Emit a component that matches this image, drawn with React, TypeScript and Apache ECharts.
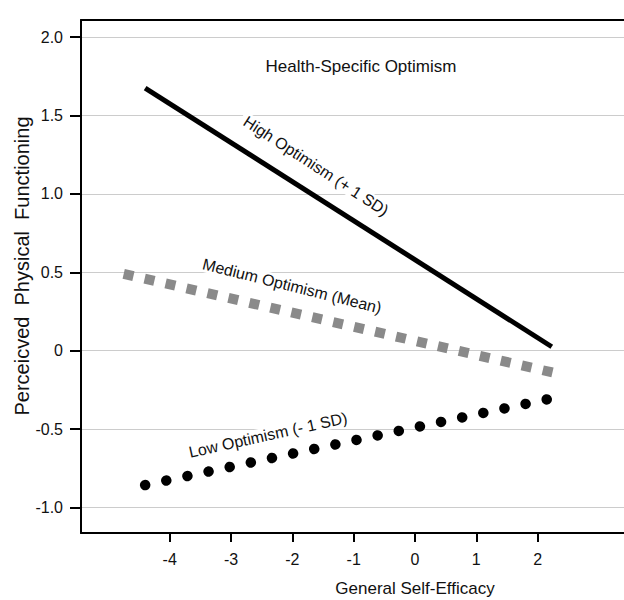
import { useEffect, useRef } from "react";
import * as echarts from "echarts";

const xTicks = [-4, -3, -2, -1, 0, 1, 2];
const yTicks = [-1, -0.5, 0, 0.5, 1, 1.5, 2];
const yTickLabels = ["-1.0", "-0.5", "0", "0.5", "1.0", "1.5", "2.0"];

const highX = [-4.4, 2.23];
const highY = [1.675, 0.025];
const mediumX = [-4.75, 2.25];
const mediumY = [0.49, -0.14];
const lowX = [-4.4, 2.16];
const lowY = [-0.857, -0.31];

const title = "Health-Specific Optimism";
const highLabel = "High Optimism (+ 1 SD)";
const mediumLabel = "Medium Optimism (Mean)";
const lowLabel = "Low Optimism (- 1 SD)";
const xTitle = "General Self-Efficacy";
const yTitle = "Perceicved  Physical  Functioning";

const X_MIN = -5.446;
const X_MAX = 3.408;
const Y_MIN = -1.163;
const Y_MAX = 2.109;

const FONT = "'Liberation Sans', Arial, sans-serif";

function pairs(xs: number[], ys: number[]) {
  return xs.map((x, i) => [x, ys[i]]);
}

export default function App() {
  const ref = useRef<HTMLDivElement>(null);
  useEffect(() => {
    if (!ref.current) return;
    const chart = echarts.init(ref.current, null, { renderer: "svg" });
    const textStyle = (size: number) => ({
      fontSize: size,
      fontFamily: FONT,
      fill: "#111",
      align: "center",
      verticalAlign: "middle",
    });
    chart.setOption({
      animation: false,
      backgroundColor: "#fff",
      grid: { left: 81, right: 0, top: 20, bottom: 67 },
      xAxis: [
        {
          type: "value",
          min: X_MIN,
          max: X_MAX,
          position: "bottom",
          axisLine: { show: true, onZero: false, lineStyle: { color: "#000", width: 2 } },
          axisTick: {
            show: true,
            customValues: xTicks,
            length: 9,
            lineStyle: { color: "#000", width: 2 },
          },
          axisLabel: {
            customValues: xTicks,
            margin: 18,
            fontSize: 16,
            fontFamily: FONT,
            color: "#111",
          },
          splitLine: { show: false },
        },
        {
          type: "value",
          min: X_MIN,
          max: X_MAX,
          position: "top",
          axisLine: { show: true, onZero: false, lineStyle: { color: "#000", width: 2 } },
          axisTick: { show: false },
          axisLabel: { show: false },
          splitLine: { show: false },
        },
      ],
      yAxis: {
        type: "value",
        min: Y_MIN,
        max: Y_MAX,
        axisLine: { show: true, onZero: false, lineStyle: { color: "#000", width: 2 } },
        axisTick: {
          show: true,
          customValues: yTicks,
          length: 11,
          lineStyle: { color: "#000", width: 2 },
        },
        axisLabel: {
          customValues: yTicks,
          margin: 18,
          fontSize: 16,
          fontFamily: FONT,
          color: "#111",
          formatter: (v: number) => {
            const i = yTicks.findIndex((t) => Math.abs(t - v) < 1e-6);
            return i >= 0 ? yTickLabels[i] : "";
          },
        },
        splitLine: { show: true, lineStyle: { color: "#cccccc", width: 1 } },
      },
      series: [
        {
          type: "line",
          data: pairs(mediumX, mediumY),
          symbol: "none",
          lineStyle: { color: "#8a8a8a", width: 10, type: [10, 11.5], cap: "butt" },
          z: 3,
        },
        {
          type: "line",
          data: pairs(highX, highY),
          symbol: "none",
          lineStyle: { color: "#000", width: 5, cap: "butt" },
          z: 4,
        },
        {
          type: "line",
          data: pairs(lowX, lowY),
          symbol: "none",
          lineStyle: { color: "#000", width: 10.5, type: [0.01, 21.6], cap: "round" },
          z: 4,
        },
      ],
      graphic: [
        {
          type: "text",
          x: 361,
          y: 66,
          style: { ...textStyle(17), text: title },
        },
        {
          type: "text",
          x: 316,
          y: 166,
          rotation: (-33 * Math.PI) / 180,
          style: { ...textStyle(16), text: highLabel, backgroundColor: "#fff", padding: [0, 4] },
          z: 10,
        },
        {
          type: "text",
          x: 292,
          y: 286,
          rotation: (-14 * Math.PI) / 180,
          style: { ...textStyle(16), text: mediumLabel, backgroundColor: "#fff", padding: [0, 4] },
          z: 10,
        },
        {
          type: "text",
          x: 268,
          y: 435,
          rotation: (12.5 * Math.PI) / 180,
          style: { ...textStyle(16), text: lowLabel, backgroundColor: "#fff", padding: [0, 4] },
          z: 10,
        },
        {
          type: "text",
          x: 415,
          y: 588,
          style: { ...textStyle(17), text: xTitle },
        },
        {
          type: "text",
          x: 22,
          y: 266,
          rotation: Math.PI / 2,
          style: { ...textStyle(20), text: yTitle },
        },
      ],
    });
    return () => chart.dispose();
  }, []);
  return (
    <div
      ref={ref}
      style={{ position: "fixed", left: 0, top: 0, width: 624, height: 600 }}
    />
  );
}
